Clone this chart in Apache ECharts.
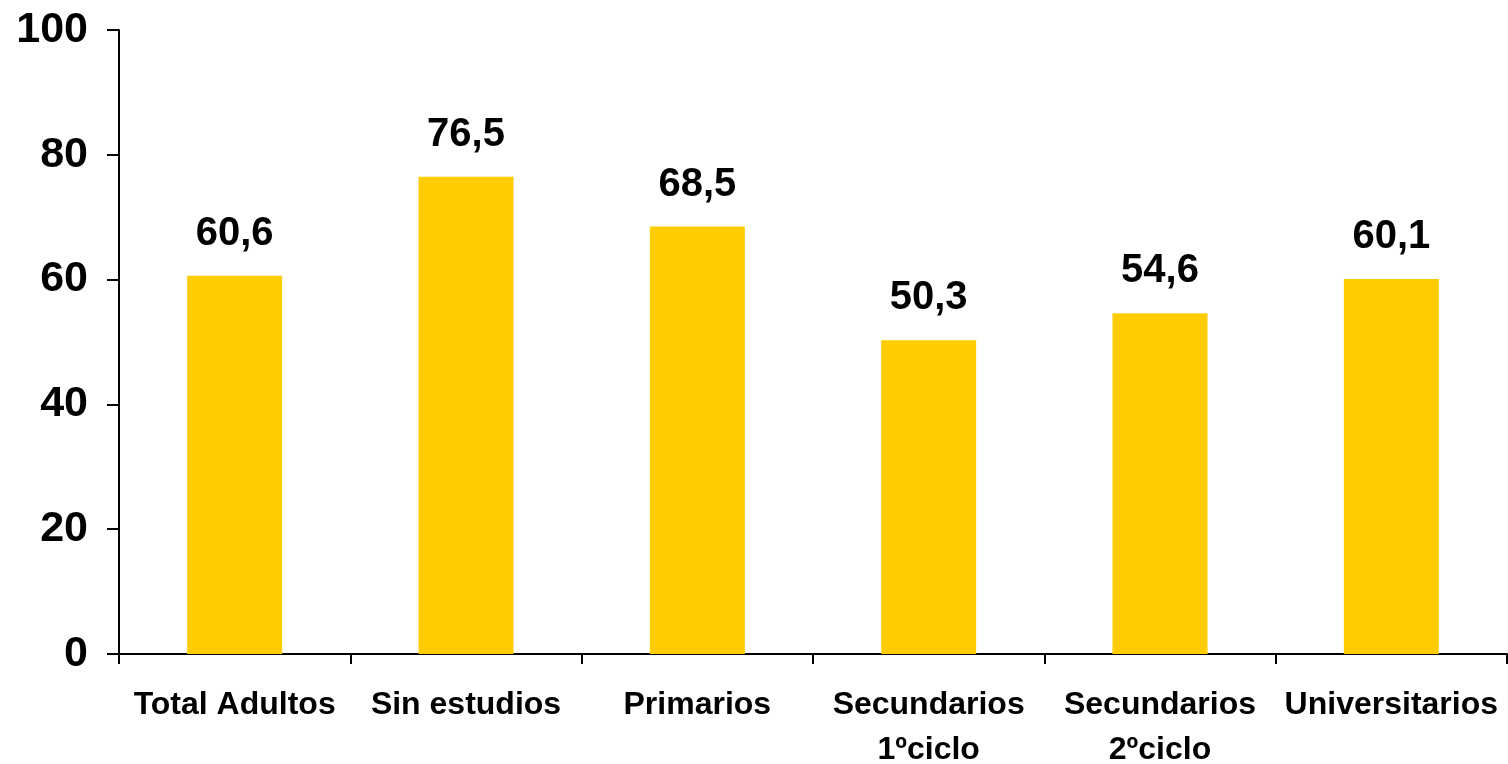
<!DOCTYPE html>
<html>
<head>
<meta charset="utf-8">
<script src="https://cdn.jsdelivr.net/npm/echarts@6/dist/echarts.min.js"></script>
<style>
html,body{margin:0;padding:0;background:#fff;}
#chart{width:1508px;height:764px;}
</style>
</head>
<body>
<div id="chart"></div>
<script>
const categories = ['Total Adultos', 'Sin estudios', 'Primarios', 'Secundarios\n1ºciclo', 'Secundarios\n2ºciclo', 'Universitarios'];
const values = [60.6, 76.5, 68.5, 50.3, 54.6, 60.1];
const yTicks = [0, 20, 40, 60, 80, 100];

const chart = echarts.init(document.getElementById('chart'), null, {renderer: 'canvas'});
const font = 'Liberation Sans, Arial, sans-serif';
chart.setOption({
  animation: false,
  backgroundColor: '#ffffff',
  grid: {left: 119, right: 1, top: 30, bottom: 110, containLabel: false, outerBoundsMode: 'none'},
  xAxis: {
    type: 'category',
    data: categories,
    boundaryGap: true,
    axisLine: {show: true, lineStyle: {color: '#000', width: 2}},
    axisTick: {show: true, length: 10, lineStyle: {color: '#000', width: 2}},
    axisLabel: {
      interval: 0,
      margin: 29,
      color: '#000',
      fontFamily: font,
      fontWeight: 'bold',
      fontSize: 32,
      lineHeight: 45
    },
    splitLine: {show: false}
  },
  yAxis: {
    type: 'value',
    min: yTicks[0],
    max: yTicks[yTicks.length - 1],
    interval: 20,
    axisLine: {show: true, lineStyle: {color: '#000', width: 2}},
    axisTick: {show: true, length: 12, lineStyle: {color: '#000', width: 2}},
    axisLabel: {
      margin: 31,
      color: '#000',
      fontFamily: font,
      fontWeight: 'bold',
      fontSize: 43
    },
    splitLine: {show: false}
  },
  series: [{
    type: 'bar',
    data: values,
    barWidth: 95,
    itemStyle: {color: '#FFCC00'},
    label: {
      show: true,
      position: 'top',
      distance: 22,
      color: '#000',
      fontFamily: font,
      fontWeight: 'bold',
      fontSize: 40,
      formatter: p => p.value.toFixed(1).replace('.', ',')
    }
  }]
});
</script>
</body>
</html>
